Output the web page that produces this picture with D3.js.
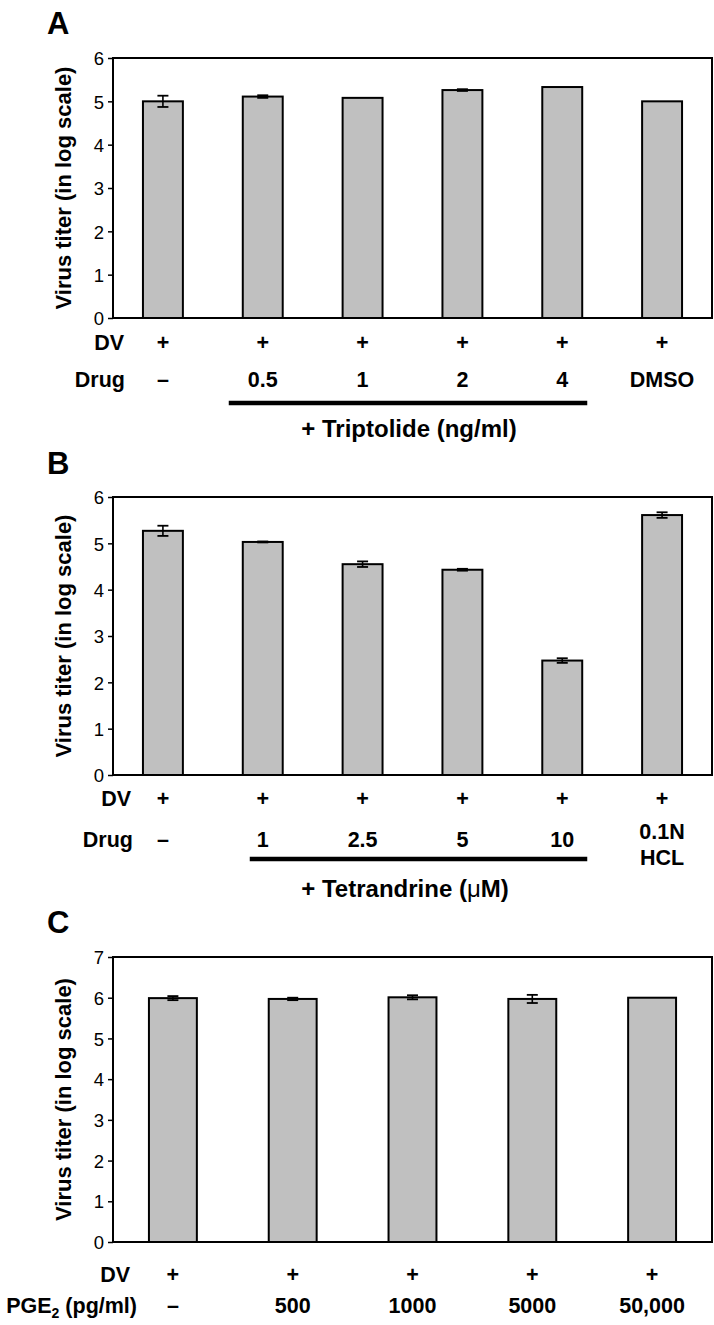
<!DOCTYPE html>
<html><head><meta charset="utf-8">
<script src="https://cdn.jsdelivr.net/npm/d3@7"></script>
<style>
html,body{margin:0;padding:0;background:#fff;}
svg{display:block;font-family:"Liberation Sans",Arial,Helvetica,sans-serif;}
</style></head>
<body>
<svg id="chart" width="714" height="1325"></svg>
<script>
// ---- Data ----
const catsA = ["–", "0.5", "1", "2", "4", "DMSO"];
const valsA = [5.0, 5.11, 5.08, 5.26, 5.33, 5.0];
const errA  = [0.13, 0.03, 0, 0.02, 0, 0];
const ticksA = [0, 1, 2, 3, 4, 5, 6];

const catsB = ["–", "1", "2.5", "5", "10", "0.1N|HCL"];
const valsB = [5.27, 5.03, 4.55, 4.43, 2.47, 5.61];
const errB  = [0.11, 0.01, 0.06, 0.02, 0.05, 0.06];
const ticksB = [0, 1, 2, 3, 4, 5, 6];

const catsC = ["–", "500", "1000", "5000", "50,000"];
const valsC = [5.99, 5.97, 6.01, 5.97, 6.0];
const errC  = [0.05, 0.03, 0.05, 0.1, 0];
const ticksC = [0, 1, 2, 3, 4, 5, 6, 7];

const yTitle = "Virus titer (in log scale)";

const svg = d3.select("#chart");
svg.append("rect").attr("width", 714).attr("height", 1325).attr("fill", "#fff");

const ROW_FS = 21.5;

function panel(cfg) {
  const g = svg.append("g");
  const left = 113, right = 712;
  const x = d3.scaleBand().domain(cfg.cats).range([left, right]).paddingInner(0.6).paddingOuter(0.3);
  const y = d3.scaleLinear().domain([0, d3.max(cfg.ticks)]).range([cfg.bottom, cfg.top]);
  const cx = c => x(c) + x.bandwidth() / 2;

  // panel letter
  g.append("text").attr("x", 47).attr("y", cfg.letterY).attr("font-size", 31)
    .attr("font-weight", "bold").text(cfg.letter);

  // y axis ticks & labels
  const ax = g.append("g").attr("transform", `translate(${left},0)`)
    .call(d3.axisLeft(y).tickValues(cfg.ticks).tickSize(5).tickPadding(4).tickFormat(d3.format("d")));
  ax.select(".domain").remove();
  ax.selectAll(".tick line").attr("stroke", "#000").attr("stroke-width", 1.5);
  ax.selectAll(".tick text").attr("font-size", 18.5).attr("fill", "#000")
    .attr("font-family", "Liberation Sans, Arial, sans-serif").attr("dy", "0.36em");

  // y title
  g.append("text")
    .attr("transform", `translate(${cfg.titleX},${(cfg.top + cfg.bottom) / 2}) rotate(-90)`)
    .attr("text-anchor", "middle").attr("font-size", cfg.titleSize).attr("font-weight", "bold")
    .text(yTitle);

  // bars
  const idx = d3.range(cfg.cats.length);
  g.selectAll("rect.bar").data(idx).join("rect").attr("class", "bar")
    .attr("x", i => x(cfg.cats[i])).attr("width", x.bandwidth())
    .attr("y", i => y(cfg.vals[i])).attr("height", i => y(0) - y(cfg.vals[i]))
    .attr("fill", "#c0c0c0").attr("stroke", "#000").attr("stroke-width", 2);

  // error bars
  idx.filter(i => cfg.errs[i] > 0).forEach(i => {
    const v = cfg.vals[i], e = cfg.errs[i], c = cx(cfg.cats[i]);
    const s = g.append("g").attr("class", "err");
    s.append("line").attr("x1", c).attr("x2", c).attr("y1", y(v - e)).attr("y2", y(v + e))
      .attr("stroke", "#000").attr("stroke-width", 1.6);
    [v - e, v + e].forEach(w => s.append("line").attr("x1", c - 5.5).attr("x2", c + 5.5)
      .attr("y1", y(w)).attr("y2", y(w)).attr("stroke", "#000").attr("stroke-width", 1.8));
  });

  // frame
  g.append("rect").attr("x", left).attr("y", cfg.top).attr("width", right - left)
    .attr("height", cfg.bottom - cfg.top).attr("fill", "none").attr("stroke", "#000").attr("stroke-width", 2);

  // DV row
  g.append("text").attr("x", cfg.labelRight).attr("y", cfg.dvY).attr("text-anchor", "end")
    .attr("font-size", ROW_FS).attr("font-weight", "bold").text("DV");
  g.selectAll("text.plus").data(cfg.cats).join("text").attr("class", "plus")
    .attr("x", d => cx(d)).attr("y", cfg.dvY).attr("text-anchor", "middle")
    .attr("font-size", ROW_FS).attr("font-weight", "bold").text("+");

  // second row label
  const rl = g.append("text").attr("x", cfg.labelRight2).attr("y", cfg.drugY).attr("text-anchor", "end")
    .attr("font-size", ROW_FS).attr("font-weight", "bold");
  if (cfg.rowLabel === "PGE2") {
    rl.append("tspan").text("PGE");
    rl.append("tspan").attr("font-size", 14).attr("dy", 5).text("2");
    rl.append("tspan").attr("dy", -5).text(" (pg/ml)");
  } else {
    rl.text(cfg.rowLabel);
  }

  // category labels
  cfg.cats.forEach(c => {
    const parts = c.split("|");
    if (parts.length === 1) {
      g.append("text").attr("x", cx(c)).attr("y", cfg.drugY).attr("text-anchor", "middle")
        .attr("font-size", ROW_FS).attr("font-weight", "bold").text(c);
    } else {
      parts.forEach((p, k) => g.append("text").attr("x", cx(c)).attr("y", cfg.drugY - 8 + k * 26)
        .attr("text-anchor", "middle").attr("font-size", ROW_FS).attr("font-weight", "bold").text(p));
    }
  });

  // group bar and label
  if (cfg.group) {
    const a = cx(cfg.group.from) - cfg.group.padL, b = cx(cfg.group.to) + cfg.group.padR;
    g.append("line").attr("x1", a).attr("x2", b).attr("y1", cfg.lineY).attr("y2", cfg.lineY)
      .attr("stroke", "#000").attr("stroke-width", 4.5);
    const t = g.append("text").attr("x", cfg.groupX).attr("y", cfg.groupY).attr("text-anchor", "middle")
      .attr("font-size", 24).attr("font-weight", "bold");
    cfg.group.label.forEach(p => {
      const ts = t.append("tspan").text(p.t);
      if (p.normal) ts.attr("font-weight", "normal");
    });
  }
}

panel({letter: "A", cats: catsA, vals: valsA, errs: errA, ticks: ticksA,
  top: 58, bottom: 318, letterY: 34, titleX: 71, titleSize: 22,
  dvY: 350, drugY: 387, labelRight: 124, labelRight2: 125, rowLabel: "Drug",
  lineY: 403, groupY: 437, groupX: 409,
  group: {from: "0.5", to: "4", padL: 34, padR: 25, label: [{t: "+ Triptolide (ng/ml)"}]}});

panel({letter: "B", cats: catsB, vals: valsB, errs: errB, ticks: ticksB,
  top: 497, bottom: 775, letterY: 474, titleX: 71, titleSize: 22,
  dvY: 806, drugY: 847, labelRight: 131, labelRight2: 133, rowLabel: "Drug",
  lineY: 859, groupY: 897, groupX: 405,
  group: {from: "1", to: "10", padL: 13, padR: 25,
    label: [{t: "+ Tetrandrine ("}, {t: "μ", normal: true}, {t: "M)"}]}});

panel({letter: "C", cats: catsC, vals: valsC, errs: errC, ticks: ticksC,
  top: 957, bottom: 1242, letterY: 933, titleX: 71, titleSize: 22,
  dvY: 1282, drugY: 1313, labelRight: 130, labelRight2: 137, rowLabel: "PGE2"});
</script>
</body></html>
